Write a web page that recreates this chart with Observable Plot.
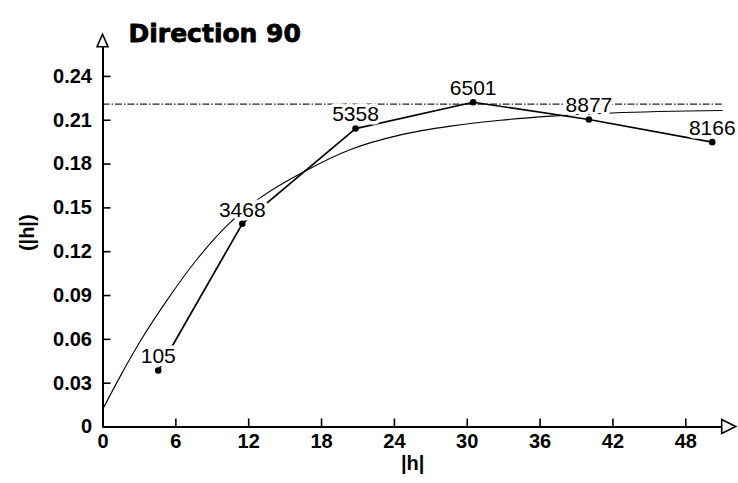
<!DOCTYPE html>
<html>
<head>
<meta charset="utf-8">
<script src="https://cdn.jsdelivr.net/npm/d3@7"></script>
<script src="https://cdn.jsdelivr.net/npm/@observablehq/plot@0.6"></script>
<style>
  html, body { margin: 0; padding: 0; background: #fff; }
  #chart svg { display: block; }
</style>
</head>
<body>
<div id="chart"></div>
<script>
// Experimental variogram, direction 90: lag distance vs. semivariance,
// each point labelled with its number of pairs.
const lags = [4.55, 11.47, 20.8, 30.49, 40.02, 50.18];
const gammas = [0.0387, 0.1391, 0.2043, 0.2223, 0.2105, 0.195];
const pairCounts = [105, 3468, 5358, 6501, 8877, 8166];

// Fitted model curve.
const modelLags = [0, 1.44, 3.09, 5.29, 7.76, 10.36, 12.97, 16.82, 20.39, 24.51, 28.63, 32.74, 36.86, 41.94, 51];
const modelGammas = [0.0125, 0.035, 0.059, 0.087, 0.115, 0.139, 0.157, 0.176, 0.19, 0.2, 0.206, 0.21, 0.2128, 0.215, 0.2167];

// Sample variance (sill reference line).
const sill = 0.221;

const xTicks = [0, 6, 12, 18, 24, 30, 36, 42, 48];
const yTicks = [0, 0.03, 0.06, 0.09, 0.12, 0.15, 0.18, 0.21, 0.24];

const titleText = "Direction 90";
const xLabel = "|h|";
const yLabel = "(|h|)";

const experimental = lags.map((h, i) => ({h, gamma: gammas[i], pairs: pairCounts[i]}));
const model = modelLags.map((h, i) => ({h, gamma: modelGammas[i]}));

// Open triangular arrowheads at the ends of both axes.
function axisArrows(index, scales, values, dims) {
  const {width, height, marginLeft, marginRight, marginTop, marginBottom} = dims;
  const ox = marginLeft, oy = height - marginBottom;
  const ex = width - marginRight, ty = marginTop;
  const g = d3.create("svg:g")
    .attr("fill", "white")
    .attr("stroke", "black")
    .attr("stroke-width", 1.6)
    .attr("stroke-linejoin", "miter");
  g.append("path").attr("d", `M${ox - 5.5},${ty}L${ox},${ty - 12.5}L${ox + 5.5},${ty}Z`);
  g.append("path").attr("d", `M${ex},${oy - 7}L${ex + 14},${oy}L${ex},${oy + 7}Z`);
  return g.node();
}

const tickFont = {fontSize: 20, fontWeight: "bold"};

const chart = Plot.plot({
  width: 738,
  height: 483,
  marginLeft: 102.5,
  marginRight: 16.3,
  marginTop: 46.7,
  marginBottom: 56.5,
  style: {fontFamily: "'Liberation Sans', Arial, sans-serif", color: "black", background: "white", overflow: "visible"},
  x: {domain: [0, 51]},
  y: {domain: [0, 0.26]},
  marks: [
    Plot.ruleY([sill], {stroke: "#222", strokeWidth: 1.1, strokeDasharray: "7,2,1.5,2"}),
    Plot.line(model, {x: "h", y: "gamma", curve: "monotone-x", stroke: "black", strokeWidth: 1.1}),
    Plot.line(experimental, {x: "h", y: "gamma", stroke: "black", strokeWidth: 1.7}),
    Plot.text(experimental, {
      x: "h", y: "gamma", text: d => String(d.pairs), dy: -14,
      fontSize: 21, fill: "black", stroke: "white", strokeWidth: 7
    }),
    Plot.dot(experimental, {x: "h", y: "gamma", r: 3.3, fill: "black"}),
    Plot.axisX(xTicks, {
      tickSize: -8, tickPadding: 14.5, strokeWidth: 1.6, label: null, ...tickFont
    }),
    Plot.axisY(yTicks, {
      tickSize: -8, tickPadding: 19, strokeWidth: 1.6, label: null,
      tickFormat: d => d === 0 ? "0" : d.toFixed(2), ...tickFont
    }),
    Plot.ruleX([0], {stroke: "black", strokeWidth: 2}),
    Plot.ruleY([0], {stroke: "black", strokeWidth: 2}),
    axisArrows,
    Plot.text([titleText], {
      text: d => d, frameAnchor: "top-left", dx: 25.5, dy: -22.7, textAnchor: "start",
      fontSize: 25, fontWeight: "bold", fontFamily: "'DejaVu Sans', sans-serif",
      fill: "black", stroke: "black", strokeWidth: 0.8
    }),
    Plot.text([xLabel], {
      text: d => d, frameAnchor: "bottom", dy: 43, fontSize: 20, fontWeight: "bold"
    }),
    Plot.text([yLabel], {
      text: d => d, frameAnchor: "left", dx: -75.5, dy: 14, rotate: -90, fontSize: 20, fontWeight: "bold"
    })
  ]
});

document.getElementById("chart").appendChild(chart);
</script>
</body>
</html>
